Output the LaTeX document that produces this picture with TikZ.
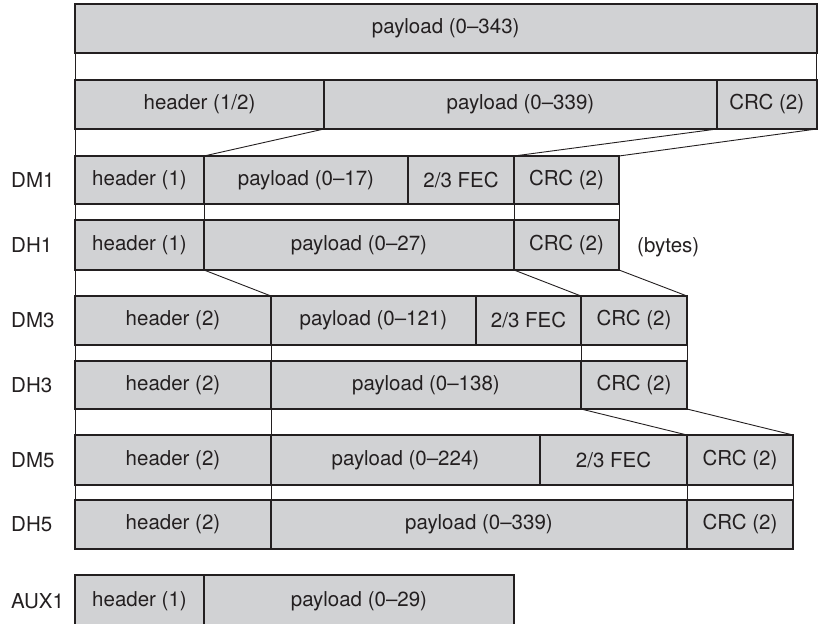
\documentclass[tikz,border=0pt]{standalone}
\usepackage{fontspec}
\setmainfont{TeX Gyre Heros}
\definecolor{boxfill}{HTML}{D1D2D4}
\definecolor{ink}{HTML}{231F20}
\tikzset{
  segbox/.style={draw=ink, line width=2pt, fill=boxfill, inner sep=0pt, outer sep=0pt,
    text=ink, font=\fontsize{20.5}{24}\selectfont},
  rowlabel/.style={anchor=west, inner sep=0pt, text=ink, font=\fontsize{20.5}{24}\selectfont},
  link/.style={draw=ink, line width=0.9pt}
}
\newcommand\seg[6]{%
  \pgfmathsetmacro\segw{#3-#2}\pgfmathsetmacro\segh{#5-#4}%
  \node[segbox, minimum width=\segw pt, minimum height=\segh pt, anchor=north west] (#1) at (#2,#4) {#6};}
\begin{document}
\begin{tikzpicture}[x=1pt,y=-1pt]
\clip (0,0) rectangle (818,623);
\coordinate (lx) at (11,0);
% row 1
\seg{top}{75}{816.5}{4}{53}{payload (0–343)}
% row 2
\seg{rh}{75}{324}{80}{129}{header (1/2)}
\seg{rp}{324}{717}{80}{129}{payload (0–339)}
\seg{rc}{717}{816.5}{80}{129}{CRC (2)}
% DM1
\seg{amh}{75}{204}{156}{204}{header (1)}
\seg{amp}{204}{408}{156}{204}{payload (0–17)}
\seg{amf}{408}{514}{156}{204}{2/3 FEC}
\seg{amc}{514}{619}{156}{204}{CRC (2)}
% DH1
\seg{ahh}{75}{204}{220}{270}{header (1)}
\seg{ahp}{204}{514}{220}{270}{payload (0–27)}
\seg{ahc}{514}{619}{220}{270}{CRC (2)}
% DM3
\seg{bmh}{75}{271}{296}{345}{header (2)}
\seg{bmp}{271}{476}{296}{345}{payload (0–121)}
\seg{bmf}{476}{581}{296}{345}{2/3 FEC}
\seg{bmc}{581}{687}{296}{345}{CRC (2)}
% DH3
\seg{bhh}{75}{271}{361}{409}{header (2)}
\seg{bhp}{271}{581}{361}{409}{payload (0–138)}
\seg{bhc}{581}{687}{361}{409}{CRC (2)}
% DM5
\seg{cmh}{75}{271}{435}{485}{header (2)}
\seg{cmp}{271}{540}{435}{485}{payload (0–224)}
\seg{cmf}{540}{687}{435}{485}{2/3 FEC}
\seg{cmc}{687}{793}{435}{485}{CRC (2)}
% DH5
\seg{chh}{75}{271}{500}{549}{header (2)}
\seg{chp}{271}{687}{500}{549}{payload (0–339)}
\seg{chc}{687}{793}{500}{549}{CRC (2)}
% AUX1
\seg{xh}{75}{204}{575}{628}{header (1)}
\seg{xp}{204}{514}{575}{628}{payload (0–29)}
% labels
\node[rowlabel] (ldm1) at (lx |- amh.west) {DM1};
\node[rowlabel] (ldh1) at (lx |- ahh.west) {DH1};
\node[rowlabel] (ldm3) at (lx |- bmh.west) {DM3};
\node[rowlabel] (ldh3) at (lx |- bhh.west) {DH3};
\node[rowlabel] (ldm5) at (lx |- cmh.west) {DM5};
\node[rowlabel] (ldh5) at (lx |- chh.west) {DH5};
\node[rowlabel] (laux) at (lx |- xh.west) {AUX1};
\node[rowlabel] (bytes) at (637,247) {(bytes)};
% connectors
\draw[link] (top.south west) -- (rh.north west);
\draw[link] (top.south east) -- (rc.north east);
\draw[link] (rh.south west) -- (amh.north west);
\draw[link] (rh.south east) -- (amp.north west);
\draw[link] (rc.south west) -- (amc.north west);
\draw[link] (rc.south east) -- (amc.north east);
\draw[link] (amh.south west) -- (ahh.north west);
\draw[link] (amh.south east) -- (ahh.north east);
\draw[link] (amc.south west) -- (ahc.north west);
\draw[link] (amc.south east) -- (ahc.north east);
\draw[link] (ahh.south west) -- (bmh.north west);
\draw[link] (ahh.south east) -- (bmh.north east);
\draw[link] (ahc.south west) -- (bmc.north west);
\draw[link] (ahc.south east) -- (bmc.north east);
\draw[link] (bmh.south west) -- (bhh.north west);
\draw[link] (bmh.south east) -- (bhh.north east);
\draw[link] (bmc.south west) -- (bhc.north west);
\draw[link] (bmc.south east) -- (bhc.north east);
\draw[link] (bhh.south west) -- (cmh.north west);
\draw[link] (bhh.south east) -- (cmh.north east);
\draw[link] (bhc.south west) -- (cmc.north west);
\draw[link] (bhc.south east) -- (cmc.north east);
\draw[link] (cmh.south west) -- (chh.north west);
\draw[link] (cmh.south east) -- (chh.north east);
\draw[link] (cmc.south west) -- (chc.north west);
\draw[link] (cmc.south east) -- (chc.north east);
\end{tikzpicture}
\end{document}
